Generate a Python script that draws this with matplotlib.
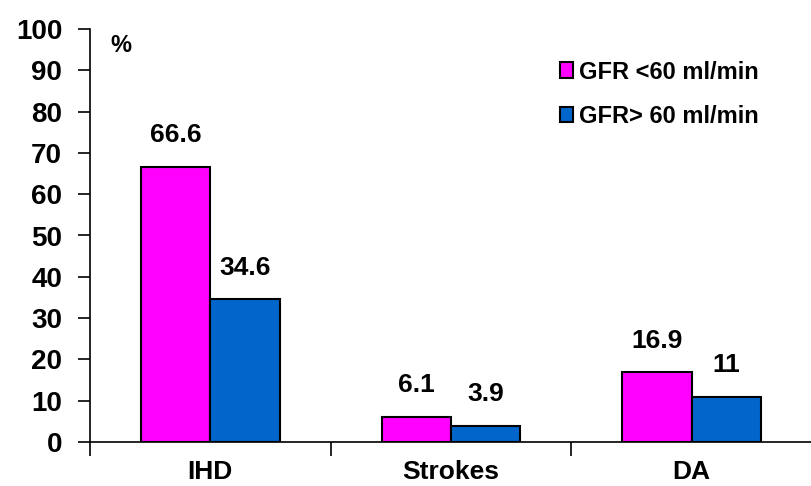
import matplotlib
matplotlib.use('Agg')
import matplotlib.pyplot as plt
import numpy as np

categories = ['IHD', 'Strokes', 'DA']
gfr_low = [66.6, 6.1, 16.9]
gfr_high = [34.6, 3.9, 11]
series_names = ['GFR <60 ml/min', 'GFR> 60 ml/min']
yticks = list(range(0, 101, 10))

plt.rcParams['font.family'] = ['Liberation Sans', 'DejaVu Sans']
plt.rcParams['font.weight'] = 'bold'

fig = plt.figure(figsize=(8.12, 4.86), dpi=100)
ax = fig.add_axes([90 / 812, 44 / 486, 1 - 90 / 812, 413 / 486])

x = np.arange(len(categories))
w = 0.288
b1 = ax.bar(x - w / 2, gfr_low, w, color='#FF00FF', edgecolor='black', linewidth=1.5, label=series_names[0])
b2 = ax.bar(x + w / 2, gfr_high, w, color='#0066CC', edgecolor='black', linewidth=1.5, label=series_names[1])

# value labels above each bar
for bars, vals in [(b1, gfr_low), (b2, gfr_high)]:
    for r, v in zip(bars, vals):
        ax.annotate(f'{v:g}', (r.get_x() + r.get_width() / 2, v), xytext=(0, 14),
                    textcoords='offset points', ha='center', va='bottom',
                    fontsize=19, fontweight='bold')

ax.set_ylim(0, 100)
ax.set_yticks(yticks)
ax.set_xlim(-0.5, 2.47)
ax.set_xticks(x)
ax.set_xticklabels(categories)
ax.set_xticks([-0.5, 0.5, 1.5, 2.5], minor=True)
ax.tick_params(axis='x', which='major', length=0, pad=13, labelsize=19)
ax.tick_params(axis='x', which='minor', length=10, width=1.2, direction='out')
ax.tick_params(axis='y', length=9, width=1.2, pad=11, labelsize=20)
for lab in ax.get_yticklabels() + ax.get_xticklabels():
    lab.set_fontweight('bold')

for s in ['top', 'right']:
    ax.spines[s].set_visible(False)
ax.spines['left'].set_linewidth(1.2)
ax.spines['bottom'].set_linewidth(1.2)

ax.text(0.028, 0.96, '%', transform=ax.transAxes, fontsize=17, fontweight='bold', va='center')

ax.legend(loc='upper right', bbox_to_anchor=(0.955, 0.975), frameon=False,
          prop={'size': 17, 'weight': 'bold'}, handlelength=0.55, handleheight=0.65,
          handletextpad=0.25, labelspacing=0.9)

fig.savefig('out.png', dpi=100)
